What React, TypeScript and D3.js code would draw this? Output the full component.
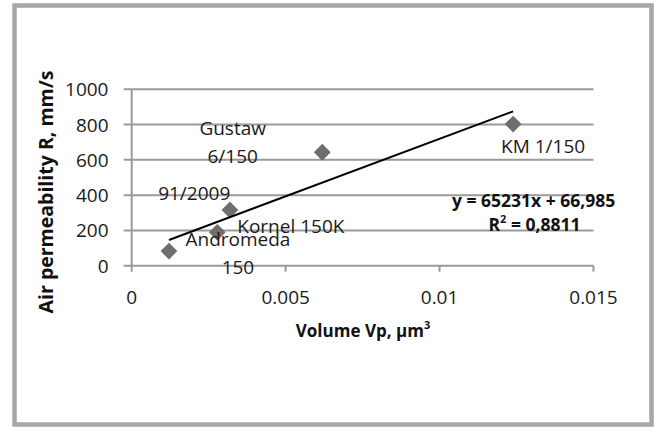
import React from "react";
import * as d3 from "d3";

const names = ["Andromeda 150", "Kornel 150K", "91/2009", "Gustaw 6/150", "KM 1/150"];
const volumes = [0.00121, 0.00278, 0.00319, 0.00619, 0.01239];
const permeability = [83, 189, 316, 643, 803];
const labelLines = [["Andromeda", "150"], ["Kornel 150K"], ["91/2009"], ["Gustaw", "6/150"], ["KM 1/150"]];
const xTicks = [0, 0.005, 0.01, 0.015];
const xTickLabels = ["0", "0.005", "0.01", "0.015"];
const yTicks = [0, 200, 400, 600, 800, 1000];
const trendSlope = 65231;
const trendIntercept = 66.985;
const equationText = "y = 65231x + 66,985";
const r2Value = "0,8811";

// label placement offsets (px) relative to each point
const labelOffsets = [
  { dx: 69, dy: 2, anchor: "middle" },
  { dx: 20, dy: -6.6, anchor: "start" },
  { dx: -35.7, dy: -16.7, anchor: "middle" },
  { dx: -89.6, dy: -10.6, anchor: "middle" },
  { dx: 30, dy: 21.7, anchor: "middle" },
];

const W = 654;
const H = 428;
const FONT = "'Open Sans', 'Liberation Sans', sans-serif";

export default function App() {
  const x = d3.scaleLinear().domain([0, 0.015]).range([131.7, 593.5]);
  const y = d3.scaleLinear().domain([0, 1000]).range([265.7, 89.3]);
  const grid = "#9a9a9a";
  const lineH = 27.7;
  const txt = "#1a1a1a";

  const xMin = d3.min(volumes) as number;
  const xMax = d3.max(volumes) as number;
  const trend = d3.line<number>()
    .x((v) => x(v))
    .y((v) => y(trendSlope * v + trendIntercept))([xMin, xMax]);

  const diamond = d3.symbol().type(d3.symbolDiamond2).size(180)();

  return (
    <svg width={W} height={H} style={{ position: "absolute", left: 0, top: 0, background: "#fff" }} fontFamily={FONT}>
      <rect x={0} y={0} width={W} height={H} fill="#fff" />
      <rect x={14.5} y={5.5} width={637} height={419} fill="#fff" stroke="#a7a7a9" strokeWidth={4.5} />

      {yTicks.map((t) => (
        <line key={"g" + t} x1={x(0) - 8} x2={x(0.015)} y1={y(t)} y2={y(t)} stroke={grid} strokeWidth={2} />
      ))}
      <line x1={x(0)} x2={x(0)} y1={y(1000)} y2={y(0) + 6} stroke={grid} strokeWidth={2} />
      {xTicks.slice(1).map((t) => (
        <line key={"xt" + t} x1={x(t)} x2={x(t)} y1={y(0)} y2={y(0) + 6} stroke={grid} strokeWidth={2} />
      ))}

      {yTicks.map((t) => (
        <text key={"yl" + t} x={108.5} y={y(t)} textAnchor="end" dominantBaseline="central" fontSize={19} fill={txt}>
          {t}
        </text>
      ))}
      {xTicks.map((t, i) => (
        <text key={"xl" + t} x={x(t)} y={296.7} textAnchor="middle" dominantBaseline="central" fontSize={19} fill={txt}>
          {xTickLabels[i]}
        </text>
      ))}

      <text x={363} y={330} textAnchor="middle" dominantBaseline="central" fontSize={17} fontWeight="bold" fill="#111">
        Volume Vp, <tspan>µm</tspan><tspan dy={-6} fontSize={11}>3</tspan>
      </text>
      <text transform={`translate(45,192) rotate(-90)`} textAnchor="middle" dominantBaseline="central" fontSize={19.5} fontWeight="bold" fill="#111">
        Air permeability R, mm/s
      </text>

      {volumes.map((v, i) => (
        <path key={"p" + i} d={diamond as string} transform={`translate(${x(v)},${y(permeability[i])})`} fill="#6e6e6e" />
      ))}

      <path d={trend as string} fill="none" stroke="#000" strokeWidth={2} />

      {volumes.map((v, i) => {
        const o = labelOffsets[i];
        const lines = labelLines[i];
        const cx = x(v) + o.dx;
        const cy = y(permeability[i]) + o.dy;
        return (
          <g key={"lab" + i}>
            {lines.map((ln, j) => (
              <text
                key={j}
                x={cx}
                y={cy + (j - (lines.length - 1) / 2) * lineH}
                textAnchor={o.anchor as any}
                dominantBaseline="central"
                fontSize={19}
                fill={txt}
              >
                {ln}
              </text>
            ))}
          </g>
        );
      })}

      <text x={533.7} y={200} textAnchor="middle" dominantBaseline="central" fontSize={17.5} fontWeight="bold" fill="#111">
        {equationText}
      </text>
      <text x={534.5} y={224} textAnchor="middle" dominantBaseline="central" fontSize={17.5} fontWeight="bold" fill="#111">
        R<tspan dy={-6} fontSize={11}>2</tspan><tspan dy={6}> = {r2Value}</tspan>
      </text>
    </svg>
  );
}
